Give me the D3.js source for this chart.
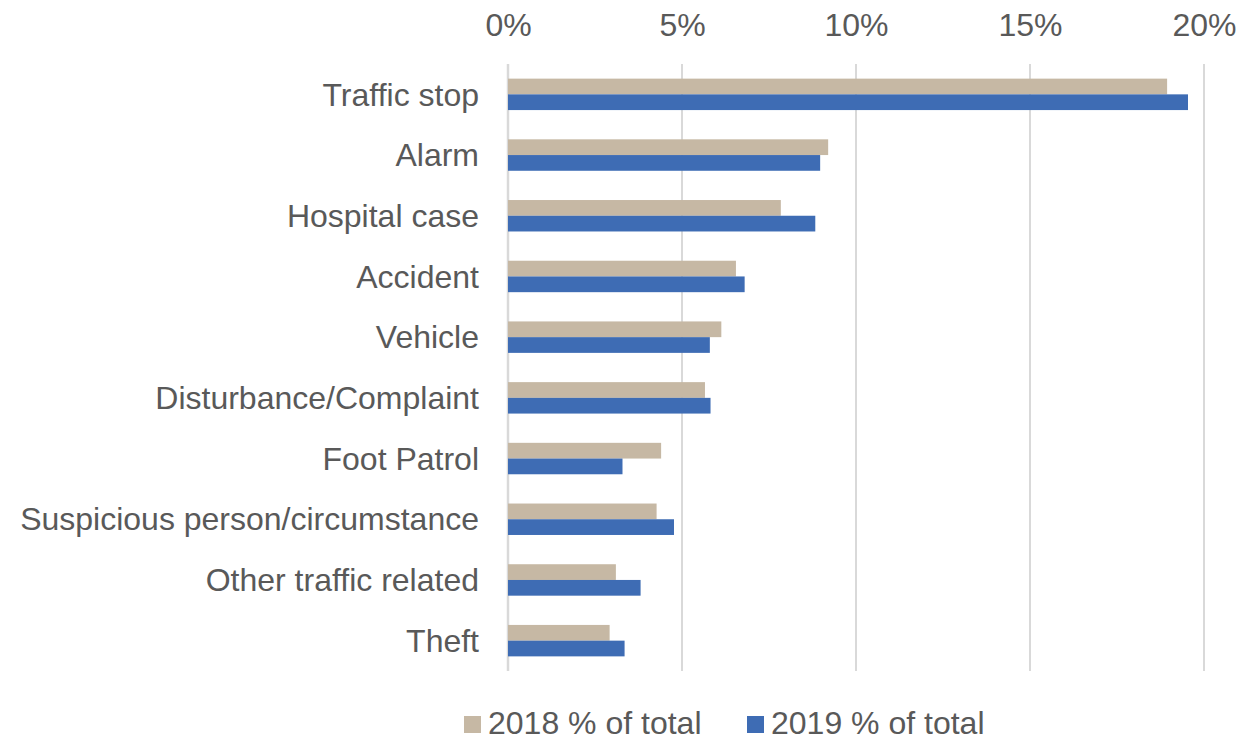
<!DOCTYPE html>
<html>
<head>
<meta charset="utf-8">
<script src="https://cdn.jsdelivr.net/npm/d3@7"></script>
<style>
  body { margin: 0; background: #fff; }
  text { font-family: "Liberation Sans", Arial, sans-serif; fill: #595959; }
</style>
</head>
<body>
<div id="chart"></div>
<script>
// 데이터
var categories = ["Traffic stop", "Alarm", "Hospital case", "Accident", "Vehicle",
  "Disturbance/Complaint", "Foot Patrol", "Suspicious person/circumstance",
  "Other traffic related", "Theft"];
var values2018 = [18.94, 9.20, 7.84, 6.55, 6.13, 5.66, 4.40, 4.27, 3.10, 2.92];
var values2019 = [19.54, 8.97, 8.83, 6.80, 5.80, 5.82, 3.29, 4.77, 3.81, 3.35];
var seriesNames = ["2018 % of total", "2019 % of total"];
var tickValues = [0, 5, 10, 15, 20];

var colors = ["#C6B8A4", "#3E6CB4"];

var width = 1240, height = 741;
var svg = d3.select("#chart").append("svg").attr("width", width).attr("height", height);

var xScale = d3.scaleLinear().domain([0, 20]).range([508, 1204]);
var yScale = d3.scaleBand().domain(categories).range([64, 671]).padding(0);

// 그룹 안 막대 높이
var groupH = yScale.bandwidth() * 0.518;
var barH = groupH / 2;

// 격자선
svg.append("g").selectAll("line")
  .data(tickValues)
  .enter()
  .append("line")
  .attr("x1", d => xScale(d)).attr("x2", d => xScale(d))
  .attr("y1", 64).attr("y2", 671)
  .attr("stroke", "#D9D9D9")
  .attr("stroke-width", (d, i) => i == 0 ? 2.5 : 2);

// x 축 (위쪽)
var xAxis = d3.axisTop(xScale).tickValues(tickValues).tickSize(0).tickPadding(0)
  .tickFormat(d => d + "%");
var xAxisG = svg.append("g").attr("transform", "translate(0,36)").call(xAxis);
xAxisG.select(".domain").remove();
xAxisG.selectAll("text").attr("font-size", 32).attr("fill", "#595959")
  .attr("dy", 0).style("font-family", "'Liberation Sans', Arial, sans-serif");

// y 축 레이블
var yAxis = d3.axisLeft(yScale).tickSize(0).tickPadding(29);
var yAxisG = svg.append("g").attr("transform", "translate(508,0)").call(yAxis);
yAxisG.select(".domain").remove();
yAxisG.selectAll("text").attr("font-size", 32).attr("fill", "#595959")
  .attr("dy", "0.35em").style("font-family", "'Liberation Sans', Arial, sans-serif");

// 막대
var rows = categories.map((c, i) => ({ cat: c, v: [values2018[i], values2019[i]] }));
var groups = svg.append("g").selectAll("g")
  .data(rows)
  .enter()
  .append("g")
  .attr("transform", d => "translate(0," + (yScale(d.cat) + yScale.bandwidth() / 2 - groupH / 2) + ")");

groups.selectAll("rect")
  .data(d => d.v)
  .enter()
  .append("rect")
  .attr("x", xScale(0))
  .attr("y", (d, j) => j * barH)
  .attr("width", d => xScale(d) - xScale(0))
  .attr("height", barH)
  .attr("fill", (d, j) => colors[j]);

// 범례
var legendX = [464, 747];
var legend = svg.append("g").selectAll("g")
  .data(seriesNames)
  .enter()
  .append("g")
  .attr("transform", (d, i) => "translate(" + legendX[i] + ",723)");
legend.append("rect")
  .attr("x", 0).attr("y", -7).attr("width", 17).attr("height", 17)
  .attr("fill", (d, i) => colors[i]);
legend.append("text")
  .attr("x", 24).attr("dy", "0.33em")
  .attr("font-size", 32)
  .text(d => d);
</script>
</body>
</html>
